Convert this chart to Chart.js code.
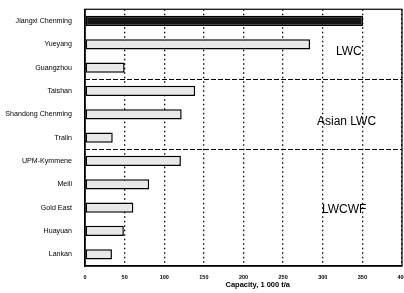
<!DOCTYPE html>
<html>
<head>
<meta charset="utf-8">
<script src="https://cdn.jsdelivr.net/npm/chart.js@4/dist/chart.umd.min.js"></script>
<style>
  html, body { margin: 0; padding: 0; background: #fff; }
  #c { display: block; }
</style>
</head>
<body>
<canvas id="c" width="404" height="293"></canvas>
<script>
var mills = ["Jiangxi Chenming", "Yueyang", "Guangzhou", "Taishan", "Shandong Chenming", "Tralin",
             "UPM-Kymmene", "Meili", "Gold East", "Huayuan", "Lankan"];
var capacity = [351, 284, 50, 139, 122, 35, 121, 81, 61, 49, 34];
var xTicks = [0, 50, 100, 150, 200, 250, 300, 350, 400];
var xTitle = "Capacity, 1 000 t/a";
var groups = ["LWC", "Asian LWC", "LWCWF"];
var groupEnds = [2, 5]; // last index of each group before a separator

var groupPlugin = {
    id: "groups",
    afterDraw: function (chart) {
        var ctx = chart.ctx, a = chart.chartArea;
        var x = chart.scales.x, y = chart.scales.y;
        ctx.save();
        // frame
        ctx.strokeStyle = "#000";
        ctx.lineWidth = 1.2;
        ctx.strokeRect(a.left, a.top, a.right - a.left, a.bottom - a.top);
        // separators between groups
        ctx.setLineDash([5, 2]);
        groupEnds.forEach(function (i) {
            var py = Math.round((y.getPixelForValue(i) + y.getPixelForValue(i + 1)) / 2) + 0.5;
            ctx.beginPath();
            ctx.moveTo(a.left, py);
            ctx.lineTo(a.right, py);
            ctx.stroke();
        });
        ctx.setLineDash([]);
        // group labels
        ctx.fillStyle = "#000";
        ctx.font = "12px 'Liberation Sans', Arial, sans-serif";
        ctx.textAlign = "center";
        ctx.textBaseline = "middle";
        var spots = [[333, 1.3], [330, 4.3], [327, 8.1]];
        groups.forEach(function (g, k) {
            ctx.fillText(g, x.getPixelForValue(spots[k][0]), y.getPixelForValue(spots[k][1]));
        });
        // axis title, sits a little right of centre in the original
        ctx.font = "bold 7.5px 'Liberation Sans', Arial, sans-serif";
        ctx.fillText(xTitle, x.getPixelForValue(218), a.bottom + 19);
        ctx.restore();
    }
};

new Chart(document.getElementById("c").getContext("2d"), {
    type: "bar",
    data: {
        labels: mills,
        datasets: [{
            data: capacity,
            backgroundColor: capacity.map(function (v, i) { return i === 0 ? "#151515" : "#e8e8e8"; }),
            borderColor: "#000",
            borderWidth: 1.5,
            borderSkipped: false,
            categoryPercentage: 1,
            barPercentage: 0.44
        }]
    },
    options: {
        indexAxis: "y",
        responsive: false,
        animation: false,
        layout: { padding: { top: 8, right: 2, left: 0, bottom: 0 } },
        plugins: { legend: { display: false }, tooltip: { enabled: false } },
        scales: {
            x: {
                min: 0,
                max: 400,
                afterBuildTicks: function (s) { s.ticks = xTicks.map(function (v) { return { value: v }; }); },
                afterFit: function (s) { s.height = 27; s.paddingLeft = 0; s.paddingRight = 0; },
                grid: { color: "#000", lineWidth: 1.3, tickLength: 0, drawTicks: false },
                border: { display: true, color: "#000", width: 1.5, dash: [1.5, 3] },
                ticks: { color: "#000", padding: 8, font: { size: 5.5, weight: "bold", family: "'Liberation Sans', Arial" } },
                title: { display: false }
            },
            y: {
                afterFit: function (s) { s.width = 85; },
                grid: { display: false },
                border: { display: true, color: "#000", width: 1.5 },
                ticks: { color: "#000", padding: 5, font: { size: 7.1, family: "'Liberation Sans', Arial" } }
            }
        }
    },
    plugins: [groupPlugin]
});
</script>
</body>
</html>
